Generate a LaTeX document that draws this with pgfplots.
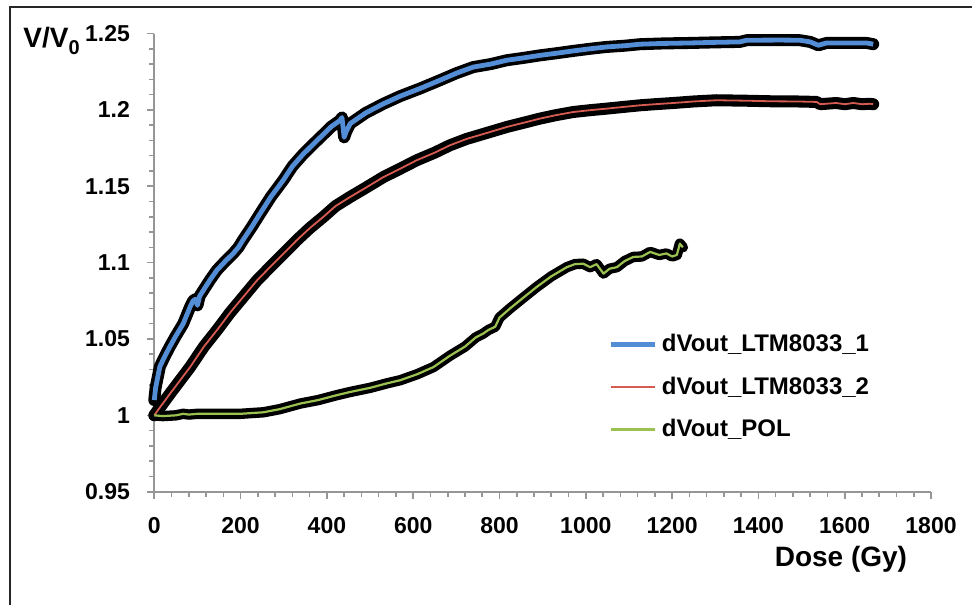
\documentclass[border=0pt]{standalone}
\usepackage{pgfplots}
\pgfplotsset{compat=1.18}
\usepackage{pgfplotstable}
\usepackage{fontspec}
\setmainfont{Liberation Sans}

\definecolor{cblue}{RGB}{83,141,213}
\definecolor{cred}{RGB}{214,92,82}
\definecolor{cgreen}{RGB}{155,194,80}
\definecolor{axgray}{RGB}{150,150,150}

\pgfplotstableread{
x y
0 1.010
3 1.018
13 1.032
25 1.039
36 1.045
50 1.052
67 1.060
83 1.071
90 1.075
95 1.076
100 1.072
105 1.078
114 1.082
130 1.089
145 1.095
165 1.101
183 1.106
195 1.110
206 1.115
225 1.123
245 1.132
270 1.143
299 1.154
320 1.163
345 1.171
370 1.178
392 1.184
410 1.189
430 1.193
435 1.195
440 1.182
445 1.186
454 1.191
490 1.198
531 1.204
570 1.209
616 1.214
662 1.2194
700 1.224
739 1.228
780 1.230
817 1.2325
855 1.234
894 1.2357
930 1.237
971 1.2386
1010 1.240
1048 1.2412
1090 1.242
1126 1.243
1180 1.2435
1241 1.2438
1300 1.2442
1357 1.2445
1373 1.2456
1450 1.2457
1496 1.2456
1520 1.2445
1539 1.2423
1558 1.2438
1600 1.2438
1651 1.2438
1666 1.243
}\blue

\pgfplotstableread{
x y
0 1.000
10 1.004
36 1.014
60 1.023
83 1.0316
115 1.045
145 1.0557
175 1.067
206 1.0775
237 1.088
268 1.097
300 1.106
330 1.1146
360 1.1225
392 1.130
420 1.137
454 1.143
490 1.149
531 1.156
570 1.1615
608 1.167
650 1.172
685 1.1768
724 1.181
760 1.184
817 1.1888
855 1.1915
894 1.1943
930 1.1965
971 1.1986
1010 1.1998
1048 1.2008
1090 1.202
1126 1.203
1165 1.2038
1203 1.2045
1250 1.2055
1303 1.2063
1370 1.206
1434 1.2056
1490 1.2055
1535 1.2052
1543 1.2037
1580 1.2045
1600 1.2037
1620 1.2045
1640 1.2037
1659 1.2040
1666 1.2037
}\red

\pgfplotstableread{
x y
0 1.000
20 0.9995
50 1.000
67 1.001
80 1.0005
100 1.001
145 1.001
200 1.001
253 1.002
290 1.004
338 1.0077
380 1.010
420 1.013
454 1.0153
500 1.018
540 1.021
570 1.023
610 1.027
647 1.0316
685 1.039
720 1.045
745 1.051
762 1.0535
775 1.056
790 1.058
800 1.064
824 1.0699
855 1.077
886 1.084
920 1.091
956 1.097
975 1.099
994 1.0993
1010 1.097
1025 1.099
1041 1.0928
1055 1.096
1072 1.097
1090 1.101
1110 1.1037
1130 1.104
1149 1.107
1170 1.105
1187 1.106
1200 1.104
1211 1.105
1218 1.1124
1225 1.110
}\green

\begin{document}
\begin{tikzpicture}
\useasboundingbox (-77.15pt,-56.65pt) rectangle (408.85pt,245.85pt);
\draw[line width=1pt, black!85] (-72.15pt,-56.65pt) -- (-72.15pt,242.35pt) -- (408.85pt,242.35pt);
\begin{axis}[
  scale only axis, width=388.35pt, height=229.1pt,
  xmin=0, xmax=1800, ymin=0.95, ymax=1.25,
  axis lines=left,
  axis line style={draw=axgray, line width=0.8pt, -},
  xtick={0,200,400,600,800,1000,1200,1400,1600,1800},
  ytick={0.95,1,1.05,1.1,1.15,1.2,1.25},
  minor x tick num=4, minor y tick num=4,
  tick align=outside, major tick length=3.5pt, minor tick length=2.5pt,
  tick style={draw=axgray, line width=0.8pt},
  /pgf/number format/assume math mode=true,
  /pgf/number format/1000 sep={},
  ticklabel style={font=\bfseries\fontsize{11.5}{13}\selectfont},
  xticklabel style={anchor=north, inner sep=0pt, yshift=-9pt},
  yticklabel style={anchor=east, inner sep=0pt, xshift=-8.5pt},
  clip=false,
  xlabel={Dose (Gy)},
  xlabel style={at={(axis description cs:0.884,0)}, anchor=base, yshift=-37.6pt, inner sep=0pt, font=\bfseries\fontsize{14}{16}\selectfont},
  ylabel={V/V\raisebox{-0.5ex}{\fontsize{10}{10}\selectfont 0}},
  ylabel style={rotate=-90, at={(axis description cs:-0.1690,0.9705)}, anchor=base west, inner sep=0pt, font=\bfseries\fontsize{14}{16}\selectfont},
  legend style={draw=none, fill=none, at={(axis description cs:0.585,0.3525)}, anchor=north west, font=\bfseries\fontsize{12}{14}\selectfont, row sep=7pt, inner sep=0pt},
  legend cell align=left,
  legend image code/.code={\draw[#1] (0pt,0pt) -- (22pt,0pt);},
]
\addplot[black, line width=6pt, line join=round, line cap=round, forget plot] table {\blue};
\addplot[black, line width=6pt, line join=round, line cap=round, forget plot] table {\red};
\addplot[black, line width=5.2pt, line join=round, line cap=round, forget plot] table {\green};
\addplot[cblue, line width=2.4pt, line join=round] table {\blue};
\addlegendentry{dVout\_LTM8033\_1}
\addplot[cred, line width=0.9pt, line join=round] table {\red};
\addlegendentry{dVout\_LTM8033\_2}
\addplot[cgreen, line width=1.1pt, line join=round] table {\green};
\addlegendentry{dVout\_POL}
\end{axis}
\end{tikzpicture}
\end{document}
